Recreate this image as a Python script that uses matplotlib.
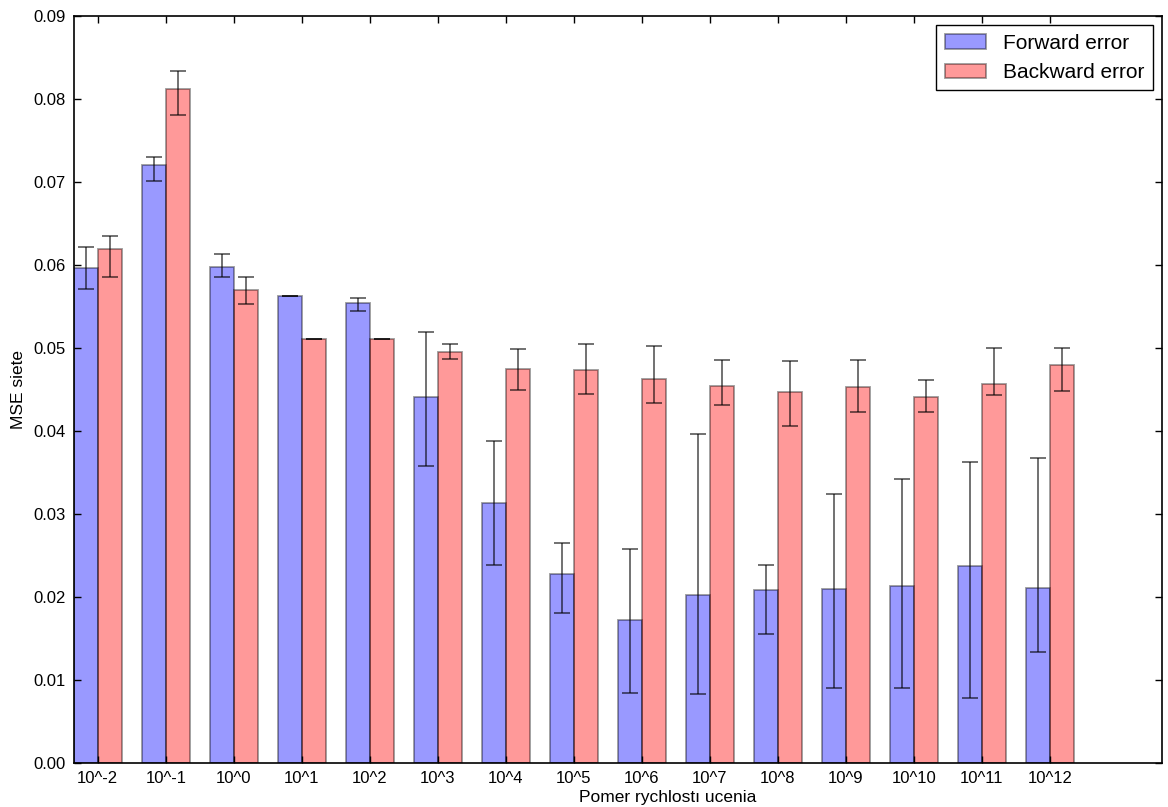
import numpy as np
import matplotlib
matplotlib.use("Agg")
import matplotlib.pyplot as plt

# DATA ########################################################################

labels = ["10^-2", "10^-1", "10^0", "10^1", "10^2", "10^3", "10^4", "10^5",
          "10^6", "10^7", "10^8", "10^9", "10^10", "10^11", "10^12"]

forward = [0.0596, 0.0720, 0.0598, 0.0563, 0.0554, 0.0441, 0.0313, 0.0228,
           0.0172, 0.0202, 0.0208, 0.0210, 0.0213, 0.0237, 0.0211]
forward_err_low = [0.0025, 0.0019, 0.0012, 0.0, 0.0009, 0.0083, 0.0074, 0.0047,
                   0.0088, 0.0119, 0.0052, 0.0120, 0.0123, 0.0159, 0.0077]
forward_err_high = [0.0026, 0.0010, 0.0015, 0.0, 0.0006, 0.0078, 0.0075, 0.0037,
                    0.0086, 0.0194, 0.0031, 0.0114, 0.0129, 0.0126, 0.0156]

backward = [0.0619, 0.0812, 0.0570, 0.0511, 0.0511, 0.0495, 0.0475, 0.0474,
            0.0463, 0.0454, 0.0447, 0.0453, 0.0441, 0.0457, 0.0479]
backward_err_low = [0.0033, 0.0031, 0.0017, 0.0, 0.0, 0.0008, 0.0025, 0.0029,
                    0.0029, 0.0023, 0.0041, 0.0030, 0.0018, 0.0014, 0.0031]
backward_err_high = [0.0016, 0.0022, 0.0015, 0.0, 0.0, 0.0010, 0.0024, 0.0031,
                     0.0040, 0.0031, 0.0037, 0.0033, 0.0021, 0.0043, 0.0021]

# PLOT ########################################################################

plt.rcParams['font.family'] = ['Liberation Sans', 'DejaVu Sans']

fig = plt.figure(figsize=(11.68, 8.07), dpi=100)
ax = fig.add_axes([74 / 1168, 44 / 807, 1088 / 1168, 747 / 807])

index = np.arange(len(labels))
bar_width = 0.35
opacity = 0.4
error_config = {'ecolor': '0.0', 'alpha': 0.6, 'capsize': 5.5,
                'elinewidth': 1.3, 'capthick': 1.3}

ax.bar(index, forward, bar_width, align='edge',
       color=(0, 0, 1, opacity), edgecolor=(0, 0, 0, opacity), linewidth=1.3,
       yerr=[forward_err_low, forward_err_high], error_kw=error_config,
       label='Forward error')
ax.bar(index + bar_width, backward, bar_width, align='edge',
       color=(1, 0, 0, opacity), edgecolor=(0, 0, 0, opacity), linewidth=1.3,
       yerr=[backward_err_low, backward_err_high], error_kw=error_config,
       label='Backward error')

ax.set_xlim(0, 16)
ax.set_ylim(0, 0.09)
ax.set_yticks(np.arange(0, 0.0901, 0.01))
ax.set_yticklabels(["%.2f" % v for v in np.arange(0, 0.0901, 0.01)])
ax.set_xticks(index + bar_width)
ax.set_xticklabels(labels)

ax.tick_params(direction='in', length=5, width=1, labelsize=12,
               top=True, right=True, pad=6)
for spine in ax.spines.values():
    spine.set_linewidth(1.2)

ax.set_xlabel('Pomer rychlostı ucenia', fontsize=12.5)
ax.xaxis.set_label_coords(0.546, -0.036)
ax.set_ylabel('MSE siete', fontsize=12.5)
ax.yaxis.set_label_coords(-0.044, 0.5)

leg = ax.legend(loc='upper right', fontsize=15, fancybox=False,
                borderaxespad=0.45)
leg.get_frame().set_edgecolor('black')
leg.get_frame().set_linewidth(1.0)
leg.get_frame().set_alpha(1.0)

plt.savefig('out.png', dpi=100)
